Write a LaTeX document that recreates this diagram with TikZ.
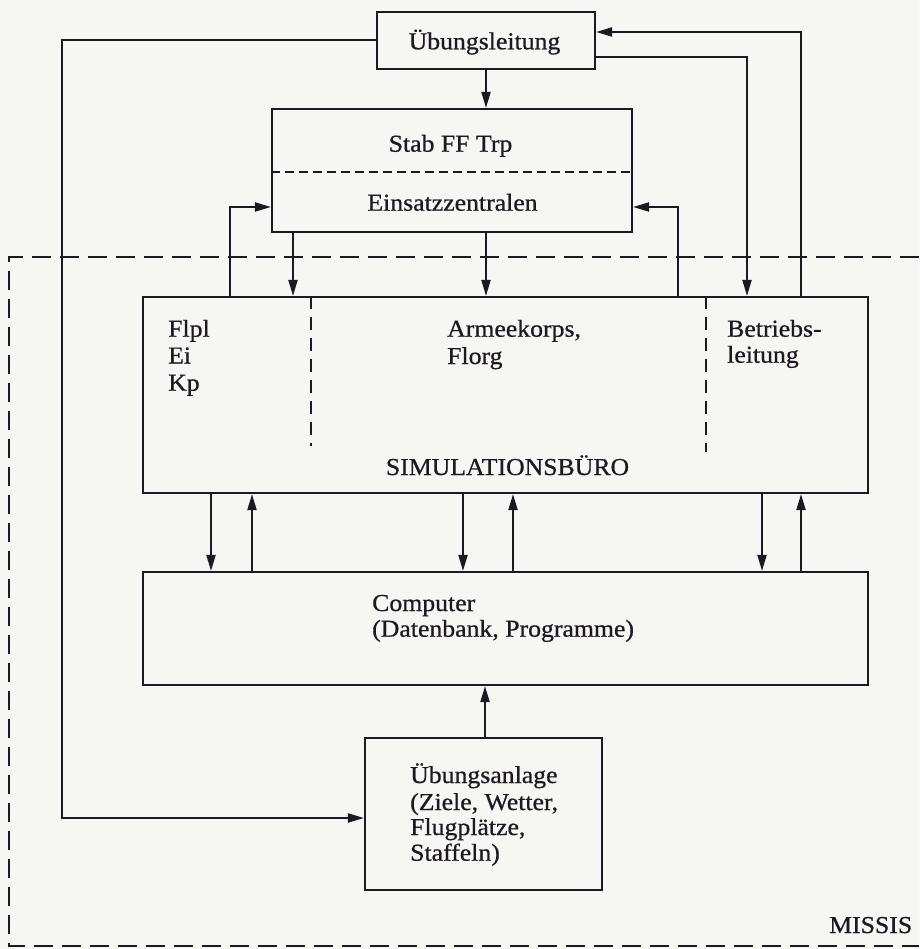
\documentclass[tikz,border=0pt]{standalone}
\usepackage{fontspec}
\setmainfont{Liberation Serif}[FakeStretch=1.06,FakeBold=0.7]
\usetikzlibrary{arrows.meta}
\definecolor{ink}{RGB}{30,24,36}
\definecolor{paper}{RGB}{246,246,243}
\begin{document}
\begin{tikzpicture}[x=1pt,y=-1pt,
  box/.style={draw=ink,line width=2.1pt,rectangle,inner sep=0pt},
  lbl/.style={inner sep=0pt,anchor=base west,text=ink,font=\fontsize{24.3}{28}\selectfont},
  clbl/.style={lbl,anchor=base},
  arr/.style={draw=ink,line width=2pt,-{Triangle[length=16pt,width=9pt]}},
  frame/.style={draw=ink,line width=2pt,dash pattern=on 19pt off 9pt},
  hdash/.style={draw=ink,line width=2pt,dash pattern=on 9pt off 5pt},
  vdash/.style={draw=ink,line width=2pt,dash pattern=on 13pt off 8pt}]
\useasboundingbox (0,0) rectangle (919,949);
\fill[paper] (0,0) rectangle (919,949);

% outer MISSIS frame (open to the right)
\draw[frame] (919,257) -- (9,257) -- (9,946) -- (919,946);
\node[lbl] (missis) at (829,933) {MISSIS};

% boxes
\node[box,minimum width=218pt,minimum height=57pt] (ul) at (486,40.5) {};
\node[box,minimum width=360pt,minimum height=123pt] (stab) at (452,170.5) {};
\node[box,minimum width=725pt,minimum height=196pt] (sim) at (505.5,395) {};
\node[box,minimum width=725pt,minimum height=113pt] (comp) at (505.5,628.5) {};
\node[box,minimum width=237pt,minimum height=152pt] (ueb) at (483.5,814) {};

% inner dashed separators
\draw[hdash] (stab.west |- 0,172) -- (stab.east |- 0,172);
\draw[vdash] (sim.north -| 311,0) -- (311,446);
\draw[vdash] (sim.north -| 706,0) -- (706,452);

% texts
\node[clbl] (tul) at (484.5,49.3) {Übungsleitung};
\node[clbl] (tstab) at (450.5,151.7) {Stab FF Trp};
\node[clbl] (tein) at (452.5,210.7) {Einsatzzentralen};
\node[lbl] (tflpl) at (168,336.7) {Flpl};
\node[lbl] (tei) at (168,363.5) {Ei};
\node[lbl] (tkp) at (168,390.7) {Kp};
\node[lbl] (tak1) at (447,336.7) {Armeekorps,};
\node[lbl] (tak2) at (447,364) {Florg};
\node[lbl] (tbl1) at (727,336.7) {Betriebs-};
\node[lbl] (tbl2) at (727,362.7) {leitung};
\node[clbl] (tsim) at (507.5,475) {SIMULATIONSBÜRO};
\node[lbl] (tc1) at (372,611) {Computer};
\node[lbl] (tc2) at (372,636.7) {(Datenbank, Programme)};
\node[lbl] (tu1) at (410,783) {Übungsanlage};
\node[lbl] (tu2) at (410,810) {(Ziele, Wetter,};
\node[lbl] (tu3) at (410,835) {Flugplätze,};
\node[lbl] (tu4) at (410,860.7) {Staffeln)};

% connectors around Übungsleitung
\draw[arr] (ul.west) -- (62,40.5) |- (ueb.west |- 0,818);
\draw[arr] (ul.south -| 486,0) -- (stab.north -| 486,0);
\draw[arr] (ul.east |- 0,57) -| (sim.north -| 747,0);
\draw[arr] (sim.north -| 801,0) |- (ul.east |- 0,32);

% Stab <-> Simulationsbuero
\draw[arr] (sim.north -| 230,0) |- (stab.west |- 0,207);
\draw[arr] (sim.north -| 678,0) |- (stab.east |- 0,207);
\draw[arr] (stab.south -| 293,0) -- (sim.north -| 293,0);
\draw[arr] (stab.south -| 486,0) -- (sim.north -| 486,0);

% Simulationsbuero <-> Computer
\draw[arr] (sim.south -| 211,0) -- (comp.north -| 211,0);
\draw[arr] (comp.north -| 252,0) -- (sim.south -| 252,0);
\draw[arr] (sim.south -| 463,0) -- (comp.north -| 463,0);
\draw[arr] (comp.north -| 513,0) -- (sim.south -| 513,0);
\draw[arr] (sim.south -| 762,0) -- (comp.north -| 762,0);
\draw[arr] (comp.north -| 801,0) -- (sim.south -| 801,0);

% Uebungsanlage -> Computer
\draw[arr] (ueb.north -| 485,0) -- (comp.south -| 485,0);
\end{tikzpicture}
\end{document}
